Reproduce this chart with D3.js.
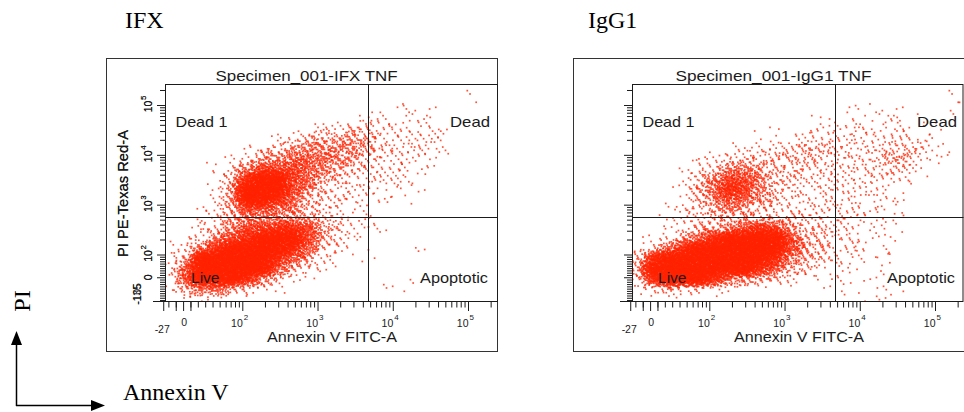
<!DOCTYPE html>
<html>
<head>
<meta charset="utf-8">
<script src="https://cdn.jsdelivr.net/npm/d3@7/dist/d3.min.js"></script>
<style>
html,body{margin:0;padding:0;background:#fff;}
svg{display:block;}
</style>
</head>
<body>
<svg id="chart" width="964" height="412"></svg>
<script>
// ---------------- data ----------------
const panels = ["IFX", "IgG1"];
const specimenTitles = ["Specimen_001-IFX TNF", "Specimen_001-IgG1 TNF"];
const quadrantNames = ["Dead 1", "Dead", "Live", "Apoptotic"];
const xAxisTitle = "Annexin V FITC-A";
const yAxisTitle = "PI PE-Texas Red-A";
const xMinValue = [-27, -27];
const yMinValue = [-105, -135];
const decadeValues = [100, 1000, 10000, 100000];
const decadeExponents = ["2", "3", "4", "5"];
const gateAnnexin = [4700, 4650];
const gatePI = [566, 566];
// event density: cells of 0.2 decade, columns from log 0.9725 (Annexin),
// rows from log 5.4216 (PI) downwards; digit = density level
const gridStartAnnexinLog = 0.9725;
const gridTopPILog = 5.4216;
const gridStepLog = 0.2;
const levelCounts = [0, 3, 7, 14, 24, 40, 62, 95, 150, 270];
const densityIFX = [
  "0000000000000000000000",
  "0000000000000000000010",
  "0000000000000001110000",
  "0000000000000211110000",
  "0000000001223322121000",
  "0000000123444422221000",
  "0000012345555422221000",
  "0000124566654322210000",
  "0001257776543222110000",
  "0001489976432222100000",
  "0001599975322211100000",
  "0001599864322111000000",
  "0012477653221100000000",
  "0012455554321100000000",
  "0023577887432110000000",
  "0135789997421000000000",
  "1258999986321000100000",
  "1499999864210100000000",
  "2799999642100000000000",
  "2799985311000000000000",
  "1466421100000010100000",
  "0110000000000000000000"
];
const densityIgG1 = [
  "0000000000000000000000",
  "0000000000000000000001",
  "0000000000000010110001",
  "0000000000001011111000",
  "0000000001002212121100",
  "0000000010122222222110",
  "0000001122333322233210",
  "0000122333333222343110",
  "0001235543332222232100",
  "0001357753322222221000",
  "0001468753222222110000",
  "0001357653222221210000",
  "0012345432222222110000",
  "0012233333322221110000",
  "0012345787533221110000",
  "0124689999743221100000",
  "1368999999743221110000",
  "3899999998543211100000",
  "5999999986431110100000",
  "3899986543210111000000",
  "1343211000001010100000",
  "0000000000000001110000"
];
const densities = [densityIFX, densityIgG1];

// ---------------- scales ----------------
function biex(x0) {
  const lx = Math.log10(x0);
  const f = v => v >= x0 ? Math.log10(v) : lx + (v - x0) / (x0 * Math.LN10);
  f.invert = t => t >= lx ? Math.pow(10, t) : x0 + (t - lx) * x0 * Math.LN10;
  return f;
}
const tA = biex(44.4);
const tP = biex(95);

const svg = d3.select("#chart");
const ink = "#1b1b1b";
const red = "#ff2200";
const sans = "'Liberation Sans', Arial, sans-serif";
const serif = "'Liberation Serif', 'Times New Roman', serif";

const phi4 = 1.1673039782614187;
const alpha = [1, 2, 3, 4].map(k => 1 / Math.pow(phi4, k));
const frac = v => v - Math.floor(v);

const bigLabelX = [125, 588];

panels.forEach((name, i) => {
  const ox = i * 467;
  const L = 165 + ox, R = Math.min(498 + ox, 963.5), T = 84, B = 302;
  const xLin = d3.scaleLinear().domain([2, 5]).range([242.3 + ox, 468 + ox]);
  const yLin = d3.scaleLinear().domain([2, 5]).range([254.5, 105]);
  const X = v => xLin(tA(v));
  const Y = v => yLin(tP(v));
  const xRightLog = xLin.invert(R);
  const yTopLog = yLin.invert(T);

  const g = svg.append("g");

  g.append("text").attr("x", bigLabelX[i]).attr("y", 28)
    .attr("font-family", serif).attr("font-size", 24).attr("fill", "#000").text(name);

  g.append("rect").attr("x", 106.5 + ox).attr("y", 58.5).attr("width", 391).attr("height", 293)
    .attr("fill", "none").attr("stroke", "#333").attr("stroke-width", 1);

  const clipId = "clip" + i;
  svg.append("clipPath").attr("id", clipId).append("rect")
    .attr("x", L).attr("y", T).attr("width", R - L).attr("height", B - T);
  const pts = [];
  let n = 0;
  densities[i].forEach((row, r) => {
    for (let c = 0; c < row.length; c++) {
      const cnt = levelCounts[+row[c]];
      for (let k = 0; k < cnt; k++) {
        n++;
        const u = alpha.map(a => frac(0.5 + a * n));
        const lx = gridStartAnnexinLog + gridStepLog * (c + u[0] + u[1] - 0.5);
        const ly = gridTopPILog - gridStepLog * (r + u[2] + u[3] - 0.5);
        pts.push({ a: tA.invert(lx), p: tP.invert(ly) });
      }
    }
  });
  g.append("g").attr("clip-path", `url(#${clipId})`)
    .selectAll("rect").data(pts).join("rect")
    .attr("x", d => X(d.a) - 0.85).attr("y", d => Y(d.p) - 0.85)
    .attr("width", 1.7).attr("height", 1.7)
    .attr("fill", red).attr("fill-opacity", 0.78);

  const gx = Math.round(X(gateAnnexin[i])) + 0.5;
  const gy = Math.round(Y(gatePI[i])) + 0.5;
  g.append("line").attr("x1", gx).attr("x2", gx).attr("y1", T).attr("y2", B)
    .attr("stroke", ink).attr("stroke-width", 1);
  g.append("line").attr("x1", L).attr("x2", R).attr("y1", gy).attr("y2", gy)
    .attr("stroke", ink).attr("stroke-width", 1);

  g.append("rect").attr("x", L + 0.5).attr("y", T + 0.5).attr("width", R - L - 1).attr("height", B - T - 1)
    .attr("fill", "none").attr("stroke", ink).attr("stroke-width", 1);

  const minorA = [];
  [-20, -10].forEach(v => minorA.push(v));
  [10, 100, 1000, 10000, 100000].forEach(d => { for (let k = 2; k <= 9; k++) minorA.push(d * k); });
  for (let k = 1; k <= 9; k++) minorA.push(k * 10);
  const minorAv = Array.from(new Set(minorA)).filter(v => tA(v) > tA(xMinValue[i]) && tA(v) < xRightLog && decadeValues.indexOf(v) < 0);
  const majorA = [xMinValue[i], 0, -10, 10].concat(decadeValues);

  const axX1 = g.append("g").attr("transform", `translate(0,${B})`)
    .call(d3.axisBottom(xLin).tickValues(minorAv.map(tA)).tickSize(5.5).tickFormat(""));
  const axX2 = g.append("g").attr("transform", `translate(0,${B})`)
    .call(d3.axisBottom(xLin).tickValues(majorA.map(tA)).tickSize(9).tickFormat(""));
  [axX1, axX2].forEach(a => { a.select(".domain").remove(); a.selectAll("line").attr("stroke", ink); });

  const minorP = [];
  for (let v = -10; v > yMinValue[i]; v -= 10) minorP.push(v);
  for (let k = 1; k <= 9; k++) minorP.push(k * 10);
  [100, 1000, 10000, 100000].forEach(d => { for (let k = 2; k <= 9; k++) minorP.push(d * k); });
  const minorPv = minorP.filter(v => tP(v) < yTopLog && Y(v) < B);
  const majorP = [0].concat(decadeValues);

  const axY1 = g.append("g").attr("transform", `translate(${L},0)`)
    .call(d3.axisLeft(yLin).tickValues(minorPv.map(tP)).tickSize(5).tickFormat(""));
  const axY2 = g.append("g").attr("transform", `translate(${L},0)`)
    .call(d3.axisLeft(yLin).tickValues(majorP.map(tP)).tickSize(8).tickFormat(""));
  [axY1, axY2].forEach(a => { a.select(".domain").remove(); a.selectAll("line").attr("stroke", ink); });
  g.append("line").attr("x1", L - 12).attr("x2", L).attr("y1", B - 0.5).attr("y2", B - 0.5)
    .attr("stroke", ink);

  decadeValues.forEach((v, j) => {
    const x = X(v);
    g.append("text").attr("x", x + 0.5).attr("y", 326.5).attr("text-anchor", "end")
      .attr("font-family", sans).attr("font-size", 10.5).attr("fill", ink).text("10");
    g.append("text").attr("x", x + 1.5).attr("y", 320).attr("text-anchor", "start")
      .attr("font-family", sans).attr("font-size", 8).attr("fill", ink).text(decadeExponents[j]);
  });
  g.append("text").attr("x", X(0) + 1).attr("y", 325.5).attr("text-anchor", "middle")
    .attr("font-family", sans).attr("font-size", 10.5).attr("fill", ink).text("0");
  g.append("text").attr("x", X(xMinValue[i]) - 1).attr("y", 333).attr("text-anchor", "middle")
    .attr("font-family", sans).attr("font-size", 10.5).attr("fill", ink).text(String(xMinValue[i]));

  decadeValues.forEach((v, j) => {
    const yy = Y(v) + 1.5;
    const t = g.append("g").attr("transform", `translate(152,${yy}) rotate(-90)`);
    t.append("text").attr("x", 0).attr("y", 0).attr("text-anchor", "middle")
      .attr("font-family", sans).attr("font-size", 10.5).attr("fill", ink).text("10");
    t.append("text").attr("x", 6.5).attr("y", -6).attr("text-anchor", "start")
      .attr("font-family", sans).attr("font-size", 8).attr("fill", ink).text(decadeExponents[j]);
  });
  g.append("g").attr("transform", `translate(152,${Y(0)}) rotate(-90)`)
    .append("text").attr("text-anchor", "middle").attr("font-family", sans).attr("font-size", 10.5)
    .attr("fill", ink).text("0");
  g.append("g").attr("transform", `translate(141,${Math.min(Y(yMinValue[i]), B) - 7.5}) rotate(-90)`)
    .append("text").attr("text-anchor", "middle").attr("font-family", sans).attr("font-size", 10.5)
    .attr("fill", ink).text(String(yMinValue[i]));

  g.append("text").attr("x", 306.5 + ox).attr("y", 80.5).attr("text-anchor", "middle")
    .attr("font-family", sans).attr("font-size", 14.5).attr("fill", ink)
    .attr("textLength", i === 0 ? 182 : 196).attr("lengthAdjust", "spacingAndGlyphs")
    .text(specimenTitles[i]);
  g.append("text").attr("x", 267 + ox).attr("y", 342).attr("font-family", sans).attr("font-size", 14.5)
    .attr("fill", ink).attr("textLength", 130).attr("lengthAdjust", "spacingAndGlyphs").text(xAxisTitle);
  g.append("g").attr("transform", `translate(128,193.5) rotate(-90)`)
    .append("text").attr("text-anchor", "middle").attr("font-family", sans).attr("font-size", 14.5)
    .attr("fill", ink).attr("textLength", 127).attr("lengthAdjust", "spacingAndGlyphs").text(yAxisTitle);

  const qPos = [[175.5, 126.5, 52], [450, 126.5, 40], [191, 283, 28.5], [420, 283, 68]];
  quadrantNames.forEach((q, j) => {
    g.append("text").attr("x", qPos[j][0] + ox).attr("y", qPos[j][1])
      .attr("font-family", sans).attr("font-size", 14.5).attr("fill", ink)
      .attr("textLength", qPos[j][2]).attr("lengthAdjust", "spacingAndGlyphs").text(q);
  });
});

const ann = svg.append("g");
ann.append("line").attr("x1", 16.5).attr("x2", 16.5).attr("y1", 406).attr("y2", 342)
  .attr("stroke", "#000").attr("stroke-width", 1.5);
ann.append("path").attr("d", "M16.5,331 L11,345 L22,345 Z").attr("fill", "#000");
ann.append("line").attr("x1", 16).attr("x2", 94).attr("y1", 405.5).attr("y2", 405.5)
  .attr("stroke", "#000").attr("stroke-width", 1.5);
ann.append("path").attr("d", "M105,405.5 L91,400 L91,411 Z").attr("fill", "#000");
ann.append("g").attr("transform", "translate(30,301) rotate(-90)")
  .append("text").attr("text-anchor", "middle").attr("font-family", serif).attr("font-size", 24)
  .attr("fill", "#000").text("PI");
ann.append("text").attr("x", 123).attr("y", 400).attr("font-family", serif).attr("font-size", 24)
  .attr("fill", "#000").text("Annexin V");
</script>
</body>
</html>
